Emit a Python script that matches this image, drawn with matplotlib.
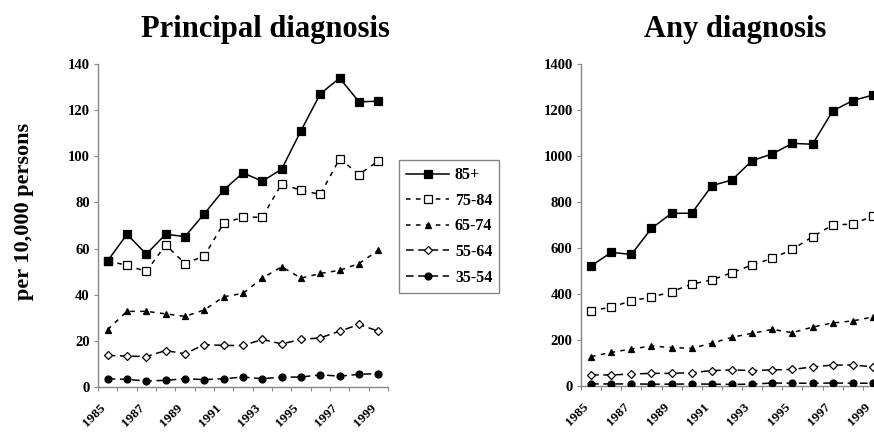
import numpy as np
import matplotlib
matplotlib.use("Agg")
import matplotlib.pyplot as plt
from matplotlib.transforms import ScaledTranslation

plt.rcParams["font.family"] = ["Liberation Serif", "DejaVu Serif"]
plt.rcParams["font.weight"] = "bold"

# ---- data ----
years = list(range(1985, 2000))
groups = ["85+", "75-84", "65-74", "55-64", "35-54"]

# principal diagnosis, per 10,000 persons
prin_85 = [54.7, 66.2, 57.6, 66.2, 65.2, 75.1, 85.4, 92.8, 89.2, 94.4, 111.1, 127.1, 133.9, 123.6, 123.9]
prin_75 = [54.7, 52.7, 50.1, 61.6, 53.5, 56.8, 71.0, 73.6, 73.6, 88.1, 85.2, 83.5, 99.0, 92.1, 98.0]
prin_65 = [24.9, 32.8, 32.8, 31.7, 30.6, 33.4, 39.1, 40.6, 47.2, 52.1, 47.2, 49.2, 50.6, 53.5, 59.3]
prin_55 = [13.7, 13.4, 13.2, 15.8, 14.4, 18.4, 18.0, 18.0, 20.6, 18.7, 20.6, 21.3, 24.2, 27.1, 24.2]
prin_35 = [3.6, 3.3, 2.6, 2.9, 3.6, 3.2, 3.6, 4.3, 3.6, 4.3, 4.3, 5.3, 4.7, 5.5, 5.8]

# any diagnosis, per 10,000 persons
any_85 = [522, 581, 572, 685, 751, 751, 871, 896, 980, 1009, 1055, 1051, 1196, 1241, 1265]
any_75 = [328, 342, 371, 386, 410, 443, 461, 493, 526, 555, 594, 649, 700, 704, 739]
any_65 = [128, 146, 161, 174, 167, 164, 186, 212, 229, 246, 232, 256, 274, 283, 300]
any_55 = [48, 48, 52, 55, 55, 58, 67, 70, 67, 70, 72, 83, 91, 91, 84]
any_35 = [9, 9, 9, 8, 8, 9, 8, 7, 8, 13, 12, 12, 13, 12, 12]

styles = {
    "85+":   dict(marker="s", mfc="black", ms=6.0, ls="-", z=4),
    "75-84": dict(marker="s", mfc="white", ms=5.5, ls=(0, (3, 3.5)), z=3),
    "65-74": dict(marker="^", mfc="black", ms=5.0, ls=(0, (3, 3.5)), z=3),
    "55-64": dict(marker="D", mfc="white", ms=4.5, ls=(0, (5, 3)), z=3),
    "35-54": dict(marker="o", mfc="black", ms=5.0, ls=(0, (5, 3)), z=3),
}

fig = plt.figure(figsize=(8.74, 4.32), dpi=100)
W, H = 874, 432


def make_ax(x0, x1, ytop, ybot):
    return fig.add_axes([x0 / W, 1 - ybot / H, (x1 - x0) / W, (ybot - ytop) / H])


ax1 = make_ax(98, 388, 64, 387)
ax2 = make_ax(581, 883, 64, 386)

panels = [
    (ax1, [prin_85, prin_75, prin_65, prin_55, prin_35], 140, 20),
    (ax2, [any_85, any_75, any_65, any_55, any_35], 1400, 200),
]

x = np.arange(len(years))
shift = ScaledTranslation(-6 / 72, 0, fig.dpi_scale_trans)
for ax, series, ymax, ystep in panels:
    for g, vals in zip(groups, series):
        st = styles[g]
        ax.plot(x, vals, color="black", lw=1.1, ls=st["ls"], marker=st["marker"],
                ms=st["ms"], mfc=st["mfc"], mec="black", mew=0.9,
                dash_capstyle="butt", zorder=st["z"], label=g)
    ax.set_xlim(-0.5, len(years) - 0.5)
    ax.set_ylim(0, ymax)
    ax.set_yticks(np.arange(0, ymax + 1, ystep))
    # tick marks between categories, labels on every second year
    ax.set_xticks(np.arange(-0.5, len(years), 1.0))
    ax.set_xticklabels([])
    ax.set_xticks(x[::2], minor=True)
    ax.set_xticklabels([str(y) for y in years[::2]], minor=True,
                       rotation=45, ha="right", va="top", fontsize=9.5,
                       rotation_mode="anchor")
    ax.tick_params(axis="x", which="major", length=3, color="#888888", direction="out")
    ax.tick_params(axis="x", which="minor", length=0, pad=11)
    ax.tick_params(axis="y", length=3, color="#888888", labelsize=10.5, pad=3)
    for s in ["top", "right"]:
        ax.spines[s].set_visible(False)
    for s in ["left", "bottom"]:
        ax.spines[s].set_color("#888888")
        ax.spines[s].set_linewidth(1.0)
    for lab in ax.get_yticklabels():
        lab.set_fontweight("bold")
    for lab in ax.get_xticklabels(minor=True):
        lab.set_fontweight("bold")
        lab.set_transform(lab.get_transform() + shift)

fig.text(265 / W, 1 - 30 / H, "Principal diagnosis", ha="center", va="center",
         fontsize=22, fontweight="bold")
fig.text(735 / W, 1 - 30 / H, "Any diagnosis", ha="center", va="center",
         fontsize=22, fontweight="bold")
fig.text(24 / W, 1 - 211 / H, "per 10,000 persons", rotation=90, ha="center",
         va="center", fontsize=16, fontweight="bold")

handles, labels = ax1.get_legend_handles_labels()
leg = fig.legend(handles, labels, loc="upper left",
                 bbox_to_anchor=(399 / W, 1 - 160 / H),
                 fontsize=11.5, frameon=True, fancybox=False, edgecolor="#666666",
                 handlelength=2.7, handletextpad=0.35, labelspacing=0.6,
                 borderpad=0.45, borderaxespad=0)
leg.get_frame().set_linewidth(1.0)

fig.savefig("out.png", dpi=100)
